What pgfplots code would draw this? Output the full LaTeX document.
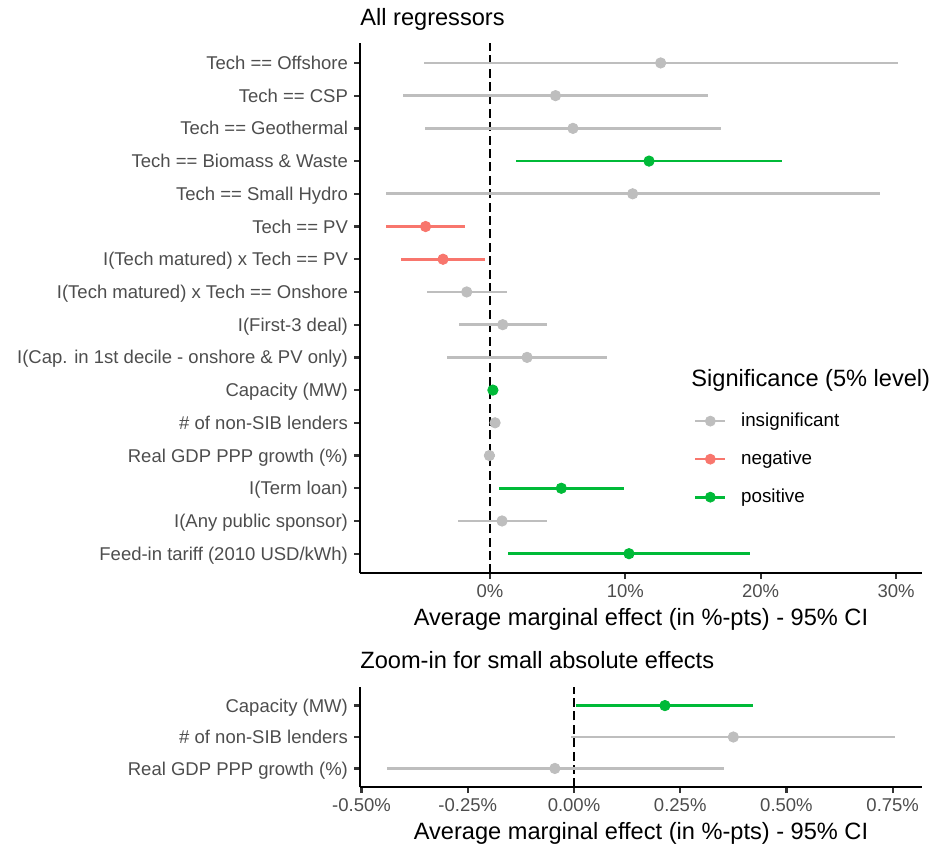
\documentclass[border=0pt]{standalone}
\usepackage{pgfplots}
\usepackage{pgfplotstable}
\pgfplotsset{compat=1.18}
\usepackage{fontspec}
\setmainfont{Liberation Sans}

\definecolor{insigc}{HTML}{BEBEBE}
\definecolor{negc}{HTML}{F8766D}
\definecolor{posc}{HTML}{00BA38}
\definecolor{ticklab}{HTML}{4D4D4D}
\definecolor{tickcol}{HTML}{333333}

% top panel (values in %)
\pgfplotstableread{
row lo pt hi
16 -4.89 12.61 30.13
15 -6.42 4.84 16.08
14 -4.84 6.13 17.07
12 -7.66 10.54 28.79
9 -4.65 -1.72 1.26
8 -2.28 0.94 4.19
7 -3.15 2.74 8.63
5 -0.008 0.375 0.755
4 -0.441 -0.045 0.353
2 -2.39 0.89 4.19
}\topinsig
\pgfplotstableread{
row lo pt hi
11 -7.72 -4.76 -1.83
10 -6.59 -3.47 -0.38
}\topneg
\pgfplotstableread{
row lo pt hi
13 1.94 11.75 21.59
6 0.004 0.214 0.421
3 0.67 5.27 9.92
1 1.32 10.27 19.22
}\toppos
% bottom panel (values in %)
\pgfplotstableread{
row lo pt hi
2 -0.008 0.375 0.755
1 -0.441 -0.045 0.353
}\botinsig
\pgfplotstableread{
row lo pt hi
3 0.004 0.214 0.421
}\botpos

\newcommand{\tickfont}{\fontsize{9.25}{11}\selectfont}
\newcommand{\titlefont}{\fontsize{11.8}{14}\selectfont}

\pgfplotsset{
  ggbase/.style={
    scale only axis,
    width=281pt,
    clip=false,
    axis x line*=bottom,
    axis y line*=left,
    axis line style={line width=1.15pt, black, -},
    tick align=outside,
    major tick length=2.95pt,
    every tick/.style={tickcol, line width=1.15pt},
    tick label style={ticklab, font=\tickfont, inner sep=0pt},
    xticklabel style={anchor=base, yshift=-9.25pt},
    yticklabel style={anchor=base east, xshift=-2.9pt, yshift=-3.3pt},
    enlargelimits=false,
    xlabel style={at={(axis description cs:0.5,0)}, anchor=base, yshift=-26pt, inner sep=0pt, font=\titlefont, black},
    title style={at={(axis description cs:0,1)}, anchor=base west, yshift=2.9pt, inner sep=0pt, font=\titlefont, black},
    xlabel={Average marginal effect (in \%-pts) - 95\% CI},
  },
  ci/.style={only marks, mark=none, forget plot,
    error bars/.cd, x dir=both, x explicit, error mark=none,
    error bar style={line width=1.35pt, color=#1}},
  pts/.style={only marks, mark=*, mark size=2.6pt, color=#1, forget plot},
  legend image code/.code={
    \draw[line width=1.35pt] (0pt,0pt) -- (15pt,0pt);
    \fill (7.5pt,0pt) circle[radius=2.5pt];
  },
}

\begin{document}
\begin{tikzpicture}
\path[use as bounding box] (-180pt,21.65pt) rectangle (288pt,-402.35pt);

\begin{axis}[ggbase,
  at={(0pt,0pt)}, anchor=north west,
  height=265pt,
  xmin=-9.606, xmax=31.92,
  ymin=0.4, ymax=16.6,
  xtick={0,10,20,30},
  xticklabels={0\%,10\%,20\%,30\%},
  ytick={1,2,3,4,5,6,7,8,9,10,11,12,13,14,15,16},
  yticklabels={
    Feed-in tariff (2010 USD/kWh),
    I(Any public sponsor),
    I(Term loan),
    Real GDP PPP growth (\%),
    \# of non-SIB lenders,
    Capacity (MW),
    I(Cap. in 1st decile - onshore \& PV only),
    I(First-3 deal),
    I(Tech matured) x Tech == Onshore,
    I(Tech matured) x Tech == PV,
    Tech == PV,
    Tech == Small Hydro,
    Tech == Biomass \& Waste,
    Tech == Geothermal,
    Tech == CSP,
    Tech == Offshore},
  title={All regressors},
  legend style={at={(axis description cs:0,1)}, anchor=north west,
    xshift=167pt, yshift=-184.75pt, draw=none, fill=none,
    inner sep=0pt, outer sep=0pt, row sep=10.7pt, column sep=7.2pt,
    font=\fontsize{9.4}{11}\selectfont, nodes={inner sep=0pt}},
  legend cell align=left,
]
\addplot[black, line width=1.15pt, dash pattern=on 4.5pt off 2.2pt, forget plot] coordinates {(0,0.4) (0,16.6)};
\addplot[ci=insigc] table[x=pt, y=row, x error plus expr=\thisrow{hi}-\thisrow{pt}, x error minus expr=\thisrow{pt}-\thisrow{lo}] {\topinsig};
\addplot[ci=negc] table[x=pt, y=row, x error plus expr=\thisrow{hi}-\thisrow{pt}, x error minus expr=\thisrow{pt}-\thisrow{lo}] {\topneg};
\addplot[ci=posc] table[x=pt, y=row, x error plus expr=\thisrow{hi}-\thisrow{pt}, x error minus expr=\thisrow{pt}-\thisrow{lo}] {\toppos};
\addplot[pts=insigc] table[x=pt, y=row] {\topinsig};
\addplot[pts=negc] table[x=pt, y=row] {\topneg};
\addplot[pts=posc] table[x=pt, y=row] {\toppos};

\addlegendimage{color=insigc}
\addlegendentry{insignificant}
\addlegendimage{color=negc}
\addlegendentry{negative}
\addlegendimage{color=posc}
\addlegendentry{positive}

\node[anchor=base west, inner sep=0pt, font=\titlefont] at ([xshift=165.5pt, yshift=-171.35pt]rel axis cs:0,1) {Significance (5\% level)};
\end{axis}

\begin{axis}[ggbase,
  at={(0pt,-321.7pt)}, anchor=north west,
  height=50.3pt,
  xmin=-0.5036, xmax=0.819,
  ymin=0.4, ymax=3.6,
  xtick={-0.5,-0.25,0,0.25,0.5,0.75},
  xticklabels={-0.50\%,-0.25\%,0.00\%,0.25\%,0.50\%,0.75\%},
  ytick={1,2,3},
  yticklabels={Real GDP PPP growth (\%), \# of non-SIB lenders, Capacity (MW)},
  title={Zoom-in for small absolute effects},
]
\addplot[black, line width=1.15pt, dash pattern=on 4.5pt off 2.2pt, forget plot] coordinates {(0,0.4) (0,3.6)};
\addplot[ci=insigc] table[x=pt, y=row, x error plus expr=\thisrow{hi}-\thisrow{pt}, x error minus expr=\thisrow{pt}-\thisrow{lo}] {\botinsig};
\addplot[ci=posc] table[x=pt, y=row, x error plus expr=\thisrow{hi}-\thisrow{pt}, x error minus expr=\thisrow{pt}-\thisrow{lo}] {\botpos};
\addplot[pts=insigc] table[x=pt, y=row] {\botinsig};
\addplot[pts=posc] table[x=pt, y=row] {\botpos};
\end{axis}
\end{tikzpicture}
\end{document}
